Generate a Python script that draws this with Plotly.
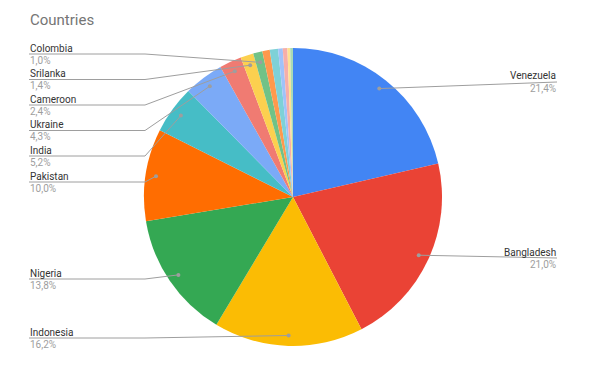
import math
import plotly.graph_objects as go

# ---- data ----
countries = ["Venezuela", "Bangladesh", "Indonesia", "Nigeria", "Pakistan", "India",
             "Ukraine", "Cameroon", "Srilanka", "Colombia",
             "Other 1", "Other 2", "Other 3", "Other 4", "Other 5", "Other 6"]
shares = [21.4, 21.0, 16.2, 13.8, 10.0, 5.2, 4.3, 2.4, 1.4, 1.0,
          0.8, 0.9, 0.5, 0.5, 0.3, 0.3]
labelled = ["Venezuela", "Bangladesh", "Indonesia", "Nigeria", "Pakistan", "India",
            "Ukraine", "Cameroon", "Srilanka", "Colombia"]

# ---- styles / layout ----
colors = ["#4285f4", "#ea4335", "#fbbc04", "#34a853", "#ff6d01", "#46bdc6",
          "#7baaf7", "#f07b72", "#fcd04f", "#71c287",
          "#ff994d", "#7ed1d7", "#a0c2f9", "#f6aea9", "#fde293", "#a8dab5"]
W, H = 591, 381
CX, CY, R = 293, 197, 149
# label leader-line heights (px from top)
label_line_y = {"Venezuela": 82, "Bangladesh": 258, "Indonesia": 338, "Nigeria": 279,
                "Pakistan": 182, "India": 156, "Ukraine": 130.5, "Cameroon": 105,
                "Srilanka": 79.5, "Colombia": 54}
LEFT_X, LEFT_KNEE, RIGHT_X = 29, 145, 557
DOT_FRAC = 0.93
FONT = "Roboto, Arial"


def px(x):
    return x / W


def py(y):
    return 1 - y / H


fig = go.Figure(go.Pie(
    labels=countries, values=shares, sort=False, direction="clockwise", rotation=0,
    marker=dict(colors=colors, line=dict(width=0)),
    textinfo="none", hoverinfo="label+percent", showlegend=False,
    domain=dict(x=[(CX - R) / W, (CX + R) / W], y=[(H - CY - R) / H, (H - CY + R) / H]),
))

shapes = []
annotations = []
total = sum(shares)
cum = 0.0
line_col = "#9e9e9e"
for name, v in zip(countries, shares):
    mid = (cum + v / 2) / total * 2 * math.pi
    cum += v
    if name not in labelled:
        continue
    dx = CX + DOT_FRAC * R * math.sin(mid)
    dy = CY - DOT_FRAC * R * math.cos(mid)
    ly = label_line_y[name]
    pct = f"{v / total * 100:.1f}%".replace(".", ",")
    if math.sin(mid) >= 0:
        shapes.append(dict(type="line", xref="paper", yref="paper",
                           x0=px(dx), y0=py(dy), x1=px(RIGHT_X), y1=py(ly),
                           line=dict(color=line_col, width=1)))
        tx, anchor = RIGHT_X, "right"
    else:
        shapes.append(dict(type="line", xref="paper", yref="paper",
                           x0=px(LEFT_X), y0=py(ly), x1=px(LEFT_KNEE), y1=py(ly),
                           line=dict(color=line_col, width=1)))
        shapes.append(dict(type="line", xref="paper", yref="paper",
                           x0=px(LEFT_KNEE), y0=py(ly), x1=px(dx), y1=py(dy),
                           line=dict(color=line_col, width=1)))
        tx, anchor = LEFT_X, "left"
    shapes.append(dict(type="circle", xref="paper", yref="paper",
                       x0=px(dx - 2), x1=px(dx + 2), y0=py(dy - 2), y1=py(dy + 2),
                       fillcolor=line_col, line=dict(width=0)))
    annotations.append(dict(x=px(tx), y=py(ly - 6), xref="paper", yref="paper",
                            text=name, showarrow=False, xanchor=anchor, yanchor="middle",
                            borderpad=0,
                            font=dict(family=FONT, size=10, color="#333333")))
    annotations.append(dict(x=px(tx), y=py(ly + 6.5), xref="paper", yref="paper",
                            text=pct, showarrow=False, xanchor=anchor, yanchor="middle",
                            borderpad=0,
                            font=dict(family=FONT, size=10, color="#9e9e9e")))

annotations.append(dict(x=px(29), y=py(20), xref="paper", yref="paper", text="Countries",
                        showarrow=False, xanchor="left", yanchor="middle", borderpad=0,
                        font=dict(family=FONT, size=15, color="#757575")))

fig.update_layout(width=W, height=H, margin=dict(l=0, r=0, t=0, b=0),
                  paper_bgcolor="white", plot_bgcolor="white",
                  shapes=shapes, annotations=annotations)
fig.write_html("out.html")
